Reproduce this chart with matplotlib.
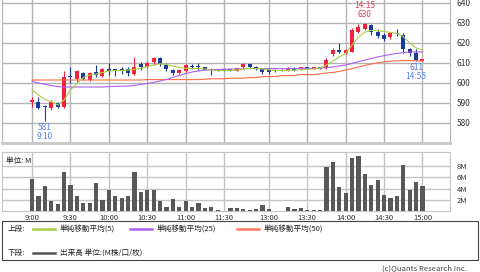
import numpy as np
import pandas as pd
import matplotlib
matplotlib.use('Agg')
import matplotlib.pyplot as plt
from matplotlib.lines import Line2D
from matplotlib.patches import Rectangle

plt.rcParams['font.family'] = ['Noto Sans CJK JP', 'DejaVu Sans']

# 5-minute bars, morning and afternoon session
am = pd.date_range('09:00', '11:30', freq='5min').strftime('%-H:%M')
pm = pd.date_range('12:30', '15:00', freq='5min').strftime('%-H:%M')
times = list(am) + list(pm)

opens = [590.5, 590.5, 588.5, 587.5, 590.0, 588.0, 603.5, 602.0, 605.0, 601.5,
         605.5, 603.5, 607.0, 607.0, 606.5, 607.0, 604.5, 609.5, 608.0, 610.5,
         612.5, 609.0, 606.5, 605.0, 606.0, 608.3, 608.2, 607.8, 606.8, 606.6,
         606.4, 606.5, 606.0, 607.8, 609.3, 608.2, 607.0, 606.5, 606.7, 606.5,
         606.5, 607.2, 607.0, 607.8, 607.0, 608.0, 607.5, 614.5, 616.0, 614.8,
         615.7, 625.7, 626.8, 629.0, 625.7, 624.0, 622.8, 625.0, 624.0, 616.8,
         614.8, 611.2]
highs = [593.0, 593.0, 589.0, 591.5, 590.5, 606.0, 608.0, 606.5, 605.5, 605.5,
         609.0, 607.5, 610.0, 607.2, 608.0, 608.0, 613.0, 610.5, 610.8, 613.0,
         613.0, 610.0, 607.0, 606.8, 609.5, 609.3, 610.2, 608.0, 607.3, 606.8,
         606.4, 606.8, 607.5, 609.8, 609.5, 608.5, 607.3, 606.8, 607.0, 606.8,
         608.0, 607.8, 608.0, 608.0, 608.0, 608.2, 612.5, 617.5, 619.8, 617.0,
         627.3, 629.5, 630.0, 629.3, 627.0, 625.0, 625.5, 627.0, 625.0, 617.5,
         617.0, 611.5]
lows = [588.0, 587.0, 581.0, 586.5, 587.5, 587.5, 600.0, 600.5, 601.5, 601.0,
        603.0, 603.0, 604.0, 603.5, 604.5, 603.5, 604.0, 606.5, 607.5, 609.0,
        608.5, 606.0, 604.0, 604.5, 605.5, 607.0, 606.5, 606.3, 604.0, 606.0,
        606.2, 606.0, 605.8, 607.5, 607.5, 606.5, 604.5, 604.5, 605.5, 605.8,
        606.0, 606.0, 606.5, 606.8, 606.8, 606.8, 607.0, 613.5, 614.8, 614.5,
        615.5, 625.0, 626.5, 624.0, 622.5, 621.0, 621.8, 623.5, 614.8, 613.5,
        611.0, 611.0]
closes = [591.5, 587.5, 588.0, 590.5, 588.0, 603.0, 603.0, 606.0, 602.0, 605.0,
          604.0, 607.0, 606.2, 606.0, 606.2, 605.0, 608.0, 608.0, 610.0, 612.5,
          609.5, 606.8, 605.0, 606.5, 609.0, 608.0, 608.0, 606.5, 606.5, 606.2,
          606.2, 606.2, 607.3, 609.3, 607.8, 606.8, 605.7, 605.7, 606.0, 606.0,
          607.3, 606.5, 607.8, 607.0, 607.8, 607.0, 611.5, 616.5, 615.7, 616.5,
          626.5, 628.2, 629.5, 625.7, 623.5, 621.8, 625.2, 624.5, 616.8, 615.2,
          611.5, 611.5]

ma5 = [596.5, 594.0, 591.8, 590.7, 589.0, 591.5, 596.5, 599.8, 602.7, 604.0,
       604.5, 605.2, 606.0, 606.2, 606.2, 606.5, 606.8, 607.3, 608.2, 609.0,
       609.6, 609.3, 608.5, 607.8, 607.3, 607.2, 607.3, 607.0, 606.5, 606.2,
       606.2, 606.3, 606.5, 607.0, 607.3, 607.2, 607.0, 606.6, 606.3, 606.2,
       606.3, 606.4, 606.6, 606.8, 607.0, 607.5, 609.0, 611.0, 613.0, 614.8,
       619.0, 622.8, 625.5, 626.3, 626.2, 625.7, 625.3, 624.8, 623.2, 620.0,
       617.5, 616.5]
ma25 = [600.8, 600.0, 599.3, 598.7, 598.2, 598.0, 598.0, 598.0, 598.0, 598.0,
        598.0, 598.0, 598.2, 598.3, 598.4, 598.5, 598.8, 599.3, 599.8, 600.3,
        601.0, 601.8, 602.8, 603.8, 604.7, 605.5, 606.0, 606.4, 606.6, 606.8,
        606.9, 607.0, 607.0, 607.1, 607.2, 607.2, 607.2, 607.2, 607.2, 607.2,
        607.2, 607.2, 607.3, 607.3, 607.3, 607.3, 607.7, 608.0, 608.5, 609.0,
        609.8, 610.7, 611.5, 612.3, 613.0, 613.7, 614.3, 614.8, 615.2, 615.5,
        615.6, 615.5]
ma50 = [601.5, 601.5, 601.5, 601.5, 601.5, 601.5, 601.5, 601.5, 601.5, 601.5,
        601.5, 601.5, 601.5, 601.5, 601.5, 601.5, 601.5, 601.5, 601.7, 601.7,
        601.7, 601.7, 601.7, 601.7, 601.7, 601.7, 601.7, 601.9, 602.1, 602.1,
        602.1, 602.4, 602.4, 602.4, 602.7, 602.7, 603.2, 603.2, 603.2, 603.7,
        603.7, 603.7, 604.2, 604.2, 604.2, 604.6, 605.0, 605.3, 605.8, 606.5,
        607.2, 608.0, 608.8, 609.5, 610.1, 610.6, 610.9, 611.1, 611.2, 611.2,
        611.1, 611.0]

volume = [5.7, 2.6, 4.4, 1.7, 1.2, 7.0, 4.7, 2.6, 1.5, 1.5,
          4.9, 2.0, 3.8, 2.6, 2.4, 2.6, 6.9, 3.4, 3.7, 3.7,
          1.8, 0.8, 2.2, 0.8, 1.8, 0.8, 1.5, 0.6, 0.8, 0.25,
          0.05, 0.5, 0.5, 0.3, 0.25, 0.35, 1.0, 0.35, 0.05, 0.05,
          0.65, 0.35, 0.5, 0.25, 0.25, 0.25, 7.75, 8.75, 4.2, 3.25,
          9.5, 9.8, 6.6, 4.55, 5.55, 2.85, 2.35, 2.7, 8.1, 3.65,
          5.25, 4.45]

tick_labels = ['9:00', '9:30', '10:00', '10:30', '11:00', '11:30',
               '13:00', '13:30', '14:00', '14:30', '15:00']
price_ticks = [580, 590, 600, 610, 620, 630, 640]
vol_ticks = [2, 4, 6, 8]

RED = '#f5203c'
BLUE = '#1c3a9a'
W, H = 480, 272


def fx(px):
    return px / W


def fy(py):
    return 1 - py / H


x = np.arange(len(times))
o = np.array(opens); c = np.array(closes)
tick_pos = [times.index(t) for t in tick_labels]

fig = plt.figure(figsize=(4.8, 2.72), dpi=100)
ax = fig.add_axes([fx(2), fy(143), fx(448), 143 / H])
vax = fig.add_axes([fx(2), fy(211), fx(448), 59 / H])

# price panel
cols = np.where(c >= o, RED, BLUE)
ax.vlines(x, lows, highs, color=cols, lw=0.8, zorder=3)
ax.bar(x, np.maximum(np.abs(c - o), 0.6), bottom=np.minimum(o, c),
       width=0.62, color=cols, zorder=4)
ax.plot(x, ma50, color='#ff6a45', lw=0.8, zorder=5)
ax.plot(x, ma25, color='#b060f0', lw=0.8, zorder=5)
ax.plot(x, ma5, color='#a8d040', lw=0.8, zorder=5)

ax.set_xlim(-4.7, 65.3)
ax.set_ylim(570, 641.5)
ax.set_xticks(tick_pos)
ax.set_yticks(price_ticks)
ax.yaxis.tick_right()
ax.tick_params(axis='x', length=0, labelbottom=False)
ax.tick_params(axis='y', length=0, labelsize=6, pad=5, colors='#333333')
ax.grid(color='#b4b4b4', lw=1)
ax.set_axisbelow(True)
ax.spines['top'].set_visible(False)
for s in ('left', 'right'):
    ax.spines[s].set_color('#b4b4b4')
ax.spines['bottom'].set_color('#c8c8c8')
ax.spines['bottom'].set_linewidth(2)

# low / high notes
lo = int(np.argmin(lows))
hi = int(np.argmax(highs))
ax.annotate(f'{lows[lo]:.0f}\n{times[lo]}', (lo, lows[lo]), xytext=(0, -1.5),
            textcoords='offset points', ha='center', va='top', fontsize=6,
            linespacing=0.95, color='#5580e0')
ax.annotate(f'{times[hi]}\n{highs[hi]:.0f}', (hi, highs[hi]), xytext=(0, 3),
            textcoords='offset points', ha='center', va='bottom', fontsize=6,
            linespacing=0.95, color='#e04050')
last_lo = len(times) - 2
ax.annotate(f'{lows[last_lo]:.0f}\n{times[last_lo]}', (last_lo, lows[last_lo]),
            xytext=(0, -1.5), textcoords='offset points', ha='center', va='top',
            fontsize=6, linespacing=0.95, color='#5580e0')

# volume panel
vax.bar(x, volume, width=0.65, color='#585858', zorder=3)
vax.set_xlim(-4.7, 65.3)
vax.set_ylim(0, 10.5)
vax.set_xticks(tick_pos)
vax.set_xticklabels(tick_labels)
vax.set_yticks(vol_ticks)
vax.set_yticklabels([f'{v}M' for v in vol_ticks])
vax.yaxis.tick_right()
vax.tick_params(length=0, labelsize=5.5, colors='#333333')
vax.tick_params(axis='x', pad=2)
vax.tick_params(axis='y', pad=5)
vax.grid(color='#c4c4c4', lw=1)
vax.set_axisbelow(True)
for s in vax.spines.values():
    s.set_color('#c4c4c4')
vax.text(0.008, 0.92, '単位: M', transform=vax.transAxes, fontsize=5.5,
         va='top', color='#222222')

# legend box
fig.add_artist(Rectangle((fx(2), fy(260)), fx(476), 39 / H, transform=fig.transFigure,
                         fill=False, ec='#444444', lw=0.8))
leg_rows = [
    (229, '上段:', [('#a8d040', 33, '単純移動平均(5)'),
                   ('#b060f0', 130, '単純移動平均(25)'),
                   ('#ff7a60', 237, '単純移動平均(50)')]),
    (253, '下段:', [('#555555', 33, '出来高 単位:(M株/口/枚)')]),
]
for ypx, head, items in leg_rows:
    fig.text(fx(8), fy(ypx), head, fontsize=5.5, va='center', color='#222222')
    for col, x0, label in items:
        fig.add_artist(Line2D([fx(x0), fx(x0 + 22)], [fy(ypx), fy(ypx)],
                              color=col, lw=1.8, transform=fig.transFigure))
        fig.text(fx(x0 + 27), fy(ypx), label, fontsize=5.5, va='center',
                 color='#222222')

fig.text(fx(467), fy(268), '(c)Quants Research Inc.', fontsize=5.5, ha='right',
         va='center', color='#444444')

fig.savefig('out.png', dpi=100)
